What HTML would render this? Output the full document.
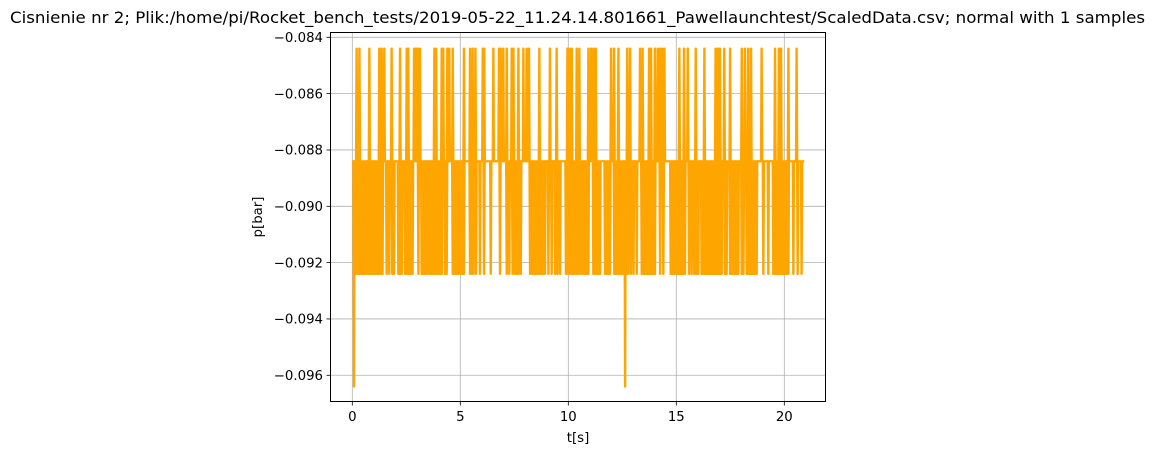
<!DOCTYPE html>
<html><head><meta charset="utf-8"><style>
html,body{margin:0;padding:0;background:#fff;}
svg{display:block;font-family:"DejaVu Sans","Liberation Sans",sans-serif;}
</style></head><body>
<svg id="chart" width="1155" height="455" viewBox="0 0 1155 455" xmlns="http://www.w3.org/2000/svg">
<rect width="1155" height="455" fill="#fff"/>
<text x="577.5" y="23" text-anchor="middle" font-size="16" textLength="1135" lengthAdjust="spacingAndGlyphs" fill="#000">Cisnienie nr 2; Plik:/home/pi/Rocket_bench_tests/2019-05-22_11.24.14.801661_Pawellaunchtest/ScaledData.csv; normal with 1 samples</text>
<g id="grid"></g>
<g id="series"></g>
<rect x="330.5" y="32.5" width="495" height="369" fill="none" stroke="#000" stroke-width="1"/>
<g id="ticks"></g>
<text x="578" y="442" text-anchor="middle" font-size="13.3">t[s]</text>
<text transform="translate(262,217) rotate(-90)" text-anchor="middle" font-size="13.3">p[bar]</text>
</svg>
<script>
const xTicks = [0, 5, 10, 15, 20];
const yTicks = [-0.084, -0.086, -0.088, -0.090, -0.092, -0.094, -0.096];
const yTickLabels = ["\u22120.084","\u22120.086","\u22120.088","\u22120.090","\u22120.092","\u22120.094","\u22120.096"];
const baseline = -0.0884;
const highValue = -0.0844;
const lowValue = -0.0924;
const dipValue = -0.0964;
const startTime = 0.0;
const endTime = 20.93;
const highTimes = [0.20,0.33,0.79,1.25,1.36,1.48,1.82,2.21,2.52,2.59,2.86,2.95,3.03,3.13,3.80,3.88,4.14,4.21,4.40,4.49,4.65,5.17,5.45,5.57,5.70,6.04,6.11,6.53,6.79,6.87,6.99,7.15,7.38,7.46,7.69,7.92,8.07,8.18,8.66,9.15,9.46,9.96,10.05,10.16,10.39,10.51,10.93,11.05,11.16,11.27,11.98,12.12,12.32,12.73,12.86,13.32,13.44,13.74,13.83,14.01,14.14,14.25,14.35,14.45,15.14,15.36,15.53,15.90,16.30,16.82,16.92,17.02,17.22,17.49,18.03,18.18,18.33,18.46,18.95,19.57,19.75,19.85,20.19,20.57];
const lowTimes = [0.10,0.18,0.26,0.34,0.42,0.50,0.58,0.66,0.74,0.82,0.90,0.98,1.06,1.14,1.22,1.30,1.40,1.59,1.71,1.85,1.93,2.13,2.21,2.29,2.44,2.50,2.56,2.62,2.68,2.74,2.79,3.06,3.21,3.29,3.37,3.45,3.53,3.61,3.69,3.77,3.85,3.93,4.01,4.06,4.14,4.29,4.37,4.65,4.73,4.81,4.89,4.97,5.05,5.13,5.17,5.45,5.53,5.61,5.73,5.91,6.10,6.41,6.84,7.15,7.27,7.42,7.53,7.61,7.69,7.80,8.23,8.31,8.39,8.47,8.55,8.63,8.71,8.79,8.87,8.92,9.08,9.23,9.39,9.50,9.62,9.89,9.97,10.05,10.13,10.21,10.29,10.37,10.45,10.51,10.62,10.70,10.78,10.86,10.93,11.16,11.24,11.32,11.40,11.47,11.70,11.78,11.86,11.93,12.13,12.21,12.29,12.37,12.45,12.53,12.70,12.78,12.90,13.02,13.17,13.40,13.48,13.56,13.64,13.72,13.80,13.88,13.96,14.01,14.25,14.40,14.74,14.82,14.90,14.98,15.06,15.14,15.22,15.30,15.40,15.59,15.71,15.83,15.93,16.02,16.17,16.25,16.33,16.41,16.49,16.57,16.65,16.73,16.81,16.89,16.97,17.05,17.10,17.25,17.33,17.49,17.56,17.64,17.72,17.80,17.87,18.03,18.11,18.26,18.33,18.41,18.49,18.57,18.64,18.72,19.03,19.26,19.49,19.57,19.65,19.73,19.81,19.89,19.97,20.05,20.13,20.19,20.42,20.62,20.80];
const dipTimes = [0.08, 12.63];

const NS = "http://www.w3.org/2000/svg";
const X = t => 352.3 + t * 21.6;
const Y = v => 37.3 + (-0.084 - v) / 0.002 * 56.33;

const grid = document.getElementById('grid');
const ticks = document.getElementById('ticks');
function mk(tag, attrs, parent){ const e=document.createElementNS(NS,tag); for(const k in attrs) e.setAttribute(k,attrs[k]); parent.appendChild(e); return e; }

xTicks.forEach(t => {
  const x = X(t);
  const g = mk('line',{x1:x,x2:x,y1:32,y2:402,stroke:'#b0b0b0','stroke-width':0.8},grid);
  
  
  const tk = mk('line',{x1:x,x2:x,y1:402,y2:405.5,stroke:'#000','stroke-width':0.8},ticks);
  
  
  const lb = mk('text',{x:x,y:421,'text-anchor':'middle','font-size':13.3},ticks);
  lb.textContent = String(t);
  
  
});
yTicks.forEach((v,i) => {
  const y = Y(v);
  const g = mk('line',{x1:330,x2:826,y1:y,y2:y,stroke:'#b0b0b0','stroke-width':0.8},grid);
  
  
  const tk = mk('line',{x1:326.5,x2:330,y1:y,y2:y,stroke:'#000','stroke-width':0.8},ticks);
  
  
  const lb = mk('text',{x:323,y:y+4.7,'text-anchor':'end','font-size':13.3},ticks);
  lb.textContent = yTickLabels[i];
  
  
});

const events = [];
highTimes.forEach(t => events.push([t, highValue]));
lowTimes.forEach(t => events.push([t, lowValue]));
dipTimes.forEach(t => events.push([t, dipValue]));
events.sort((a,b)=>a[0]-b[0]);
const pts = [[startTime, baseline]];
events.forEach(([t,v]) => { pts.push([t-0.03, baseline]); pts.push([t-0.005, v]); pts.push([t+0.005, v]); pts.push([t+0.03, baseline]); });
pts.push([endTime, baseline]);
const d = pts.map((p,i)=>(i?'L':'M')+X(p[0]).toFixed(2)+' '+Y(p[1]).toFixed(2)).join(' ');
const path = mk('path',{d:d,fill:'none',stroke:'#ffa500','stroke-width':2.2,'stroke-linejoin':'round'},document.getElementById('series'));


</script>
</body></html>
